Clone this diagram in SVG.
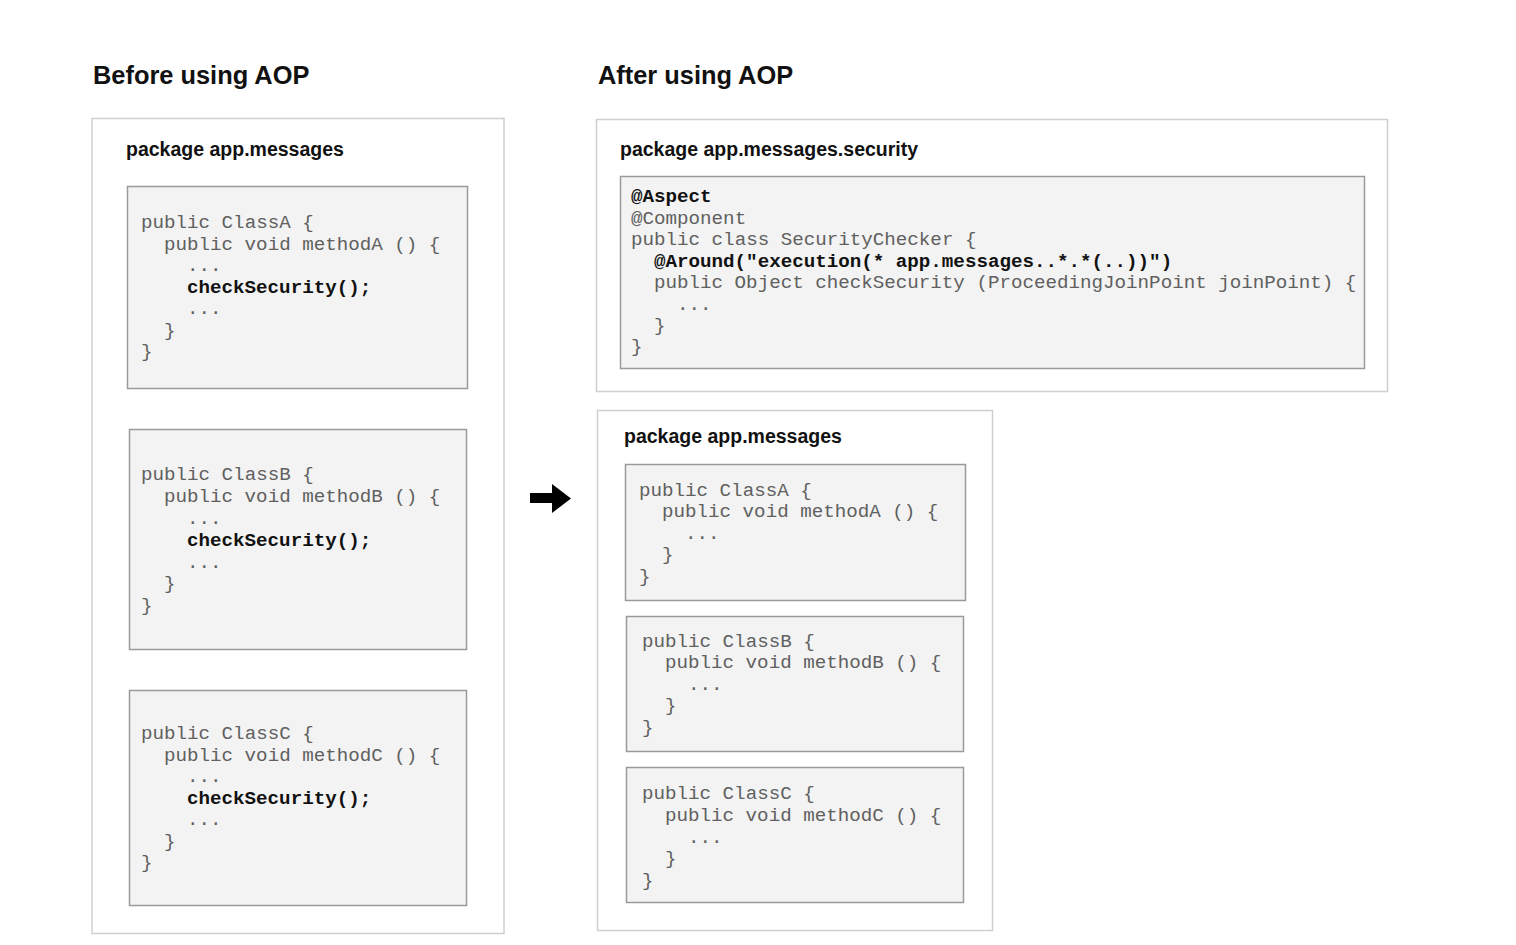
<svg xmlns="http://www.w3.org/2000/svg" width="1516" height="945" viewBox="0 0 1516 945">
<style>
.title{font-family:"Liberation Sans",Arial,sans-serif;font-weight:bold;font-size:25.4px;fill:#111}
.pkg{font-family:"Liberation Sans",Arial,sans-serif;font-weight:bold;font-size:19.5px;fill:#111}
.outer{fill:#fff;stroke:#cfcfcf;stroke-width:1.5}
.box{fill:#f3f3f3;stroke:#9a9a9a;stroke-width:1.5}
.code{font-family:"Liberation Mono","Courier New",monospace;font-size:19.2px;fill:#606060}
.b{font-weight:bold;fill:#111}
</style>
<rect width="1516" height="945" fill="#fff"/>
<text class="title" x="93" y="84">Before using AOP</text>
<text class="title" x="598" y="84">After using AOP</text>

<g id="before-package">
<rect class="outer" x="92" y="118.5" width="412" height="815"/>
<text class="pkg" x="126" y="156">package app.messages</text>
</g>

<g id="before-classA">
<rect class="box" x="127.5" y="186.5" width="340" height="202"/>
<text class="code" x="141" y="228">public ClassA {</text>
<text class="code" x="164" y="249.5">public void methodA () {</text>
<text class="code" x="187" y="271">...</text>
<text class="code b" x="187" y="292.5">checkSecurity();</text>
<text class="code" x="187" y="314">...</text>
<text class="code" x="164" y="335.5">}</text>
<text class="code" x="141" y="357">}</text>
</g>

<g id="before-classB">
<rect class="box" x="129.5" y="429.5" width="337" height="220"/>
<text class="code" x="141" y="480">public ClassB {</text>
<text class="code" x="164" y="502">public void methodB () {</text>
<text class="code" x="187" y="524">...</text>
<text class="code b" x="187" y="545.5">checkSecurity();</text>
<text class="code" x="187" y="568">...</text>
<text class="code" x="164" y="589">}</text>
<text class="code" x="141" y="611">}</text>
</g>

<g id="before-classC">
<rect class="box" x="129.5" y="690.5" width="337" height="215"/>
<text class="code" x="141" y="739">public ClassC {</text>
<text class="code" x="164" y="760.5">public void methodC () {</text>
<text class="code" x="187" y="782">...</text>
<text class="code b" x="187" y="803.5">checkSecurity();</text>
<text class="code" x="187" y="825">...</text>
<text class="code" x="164" y="846.5">}</text>
<text class="code" x="141" y="868">}</text>
</g>

<g id="connectors">
<polygon points="530,493 552,493 552,484 571,498.5 552,513 552,503 530,503" fill="#000"/>
</g>

<g id="security-package">
<rect class="outer" x="596.5" y="119.5" width="791" height="272"/>
<text class="pkg" x="620" y="156">package app.messages.security</text>
</g>

<g id="security-checker">
<rect class="box" x="620.5" y="176.5" width="744" height="192"/>
<text class="code b" x="631" y="202">@Aspect</text>
<text class="code" x="631" y="223.5">@Component</text>
<text class="code" x="631" y="245">public class SecurityChecker {</text>
<text class="code b" x="654" y="266.5">@Around("execution(* app.messages..*.*(..))")</text>
<text class="code" x="654" y="288">public Object checkSecurity (ProceedingJoinPoint joinPoint) {</text>
<text class="code" x="677" y="309.5">...</text>
<text class="code" x="654" y="331">}</text>
<text class="code" x="631" y="352">}</text>
</g>

<g id="after-package">
<rect class="outer" x="597.5" y="410.5" width="395" height="520"/>
<text class="pkg" x="624" y="443">package app.messages</text>
</g>

<g id="after-classA">
<rect class="box" x="625.5" y="464.5" width="340" height="136"/>
<text class="code" x="639" y="495.5">public ClassA {</text>
<text class="code" x="662" y="517">public void methodA () {</text>
<text class="code" x="685" y="539">...</text>
<text class="code" x="662" y="560">}</text>
<text class="code" x="639" y="582">}</text>
</g>

<g id="after-classB">
<rect class="box" x="626.5" y="616.5" width="337" height="135"/>
<text class="code" x="642" y="646.5">public ClassB {</text>
<text class="code" x="665" y="668">public void methodB () {</text>
<text class="code" x="688" y="690">...</text>
<text class="code" x="665" y="711">}</text>
<text class="code" x="642" y="733">}</text>
</g>

<g id="after-classC">
<rect class="box" x="626.5" y="767.5" width="337" height="135"/>
<text class="code" x="642" y="799">public ClassC {</text>
<text class="code" x="665" y="821">public void methodC () {</text>
<text class="code" x="688" y="843">...</text>
<text class="code" x="665" y="864">}</text>
<text class="code" x="642" y="886">}</text>
</g>
</svg>
